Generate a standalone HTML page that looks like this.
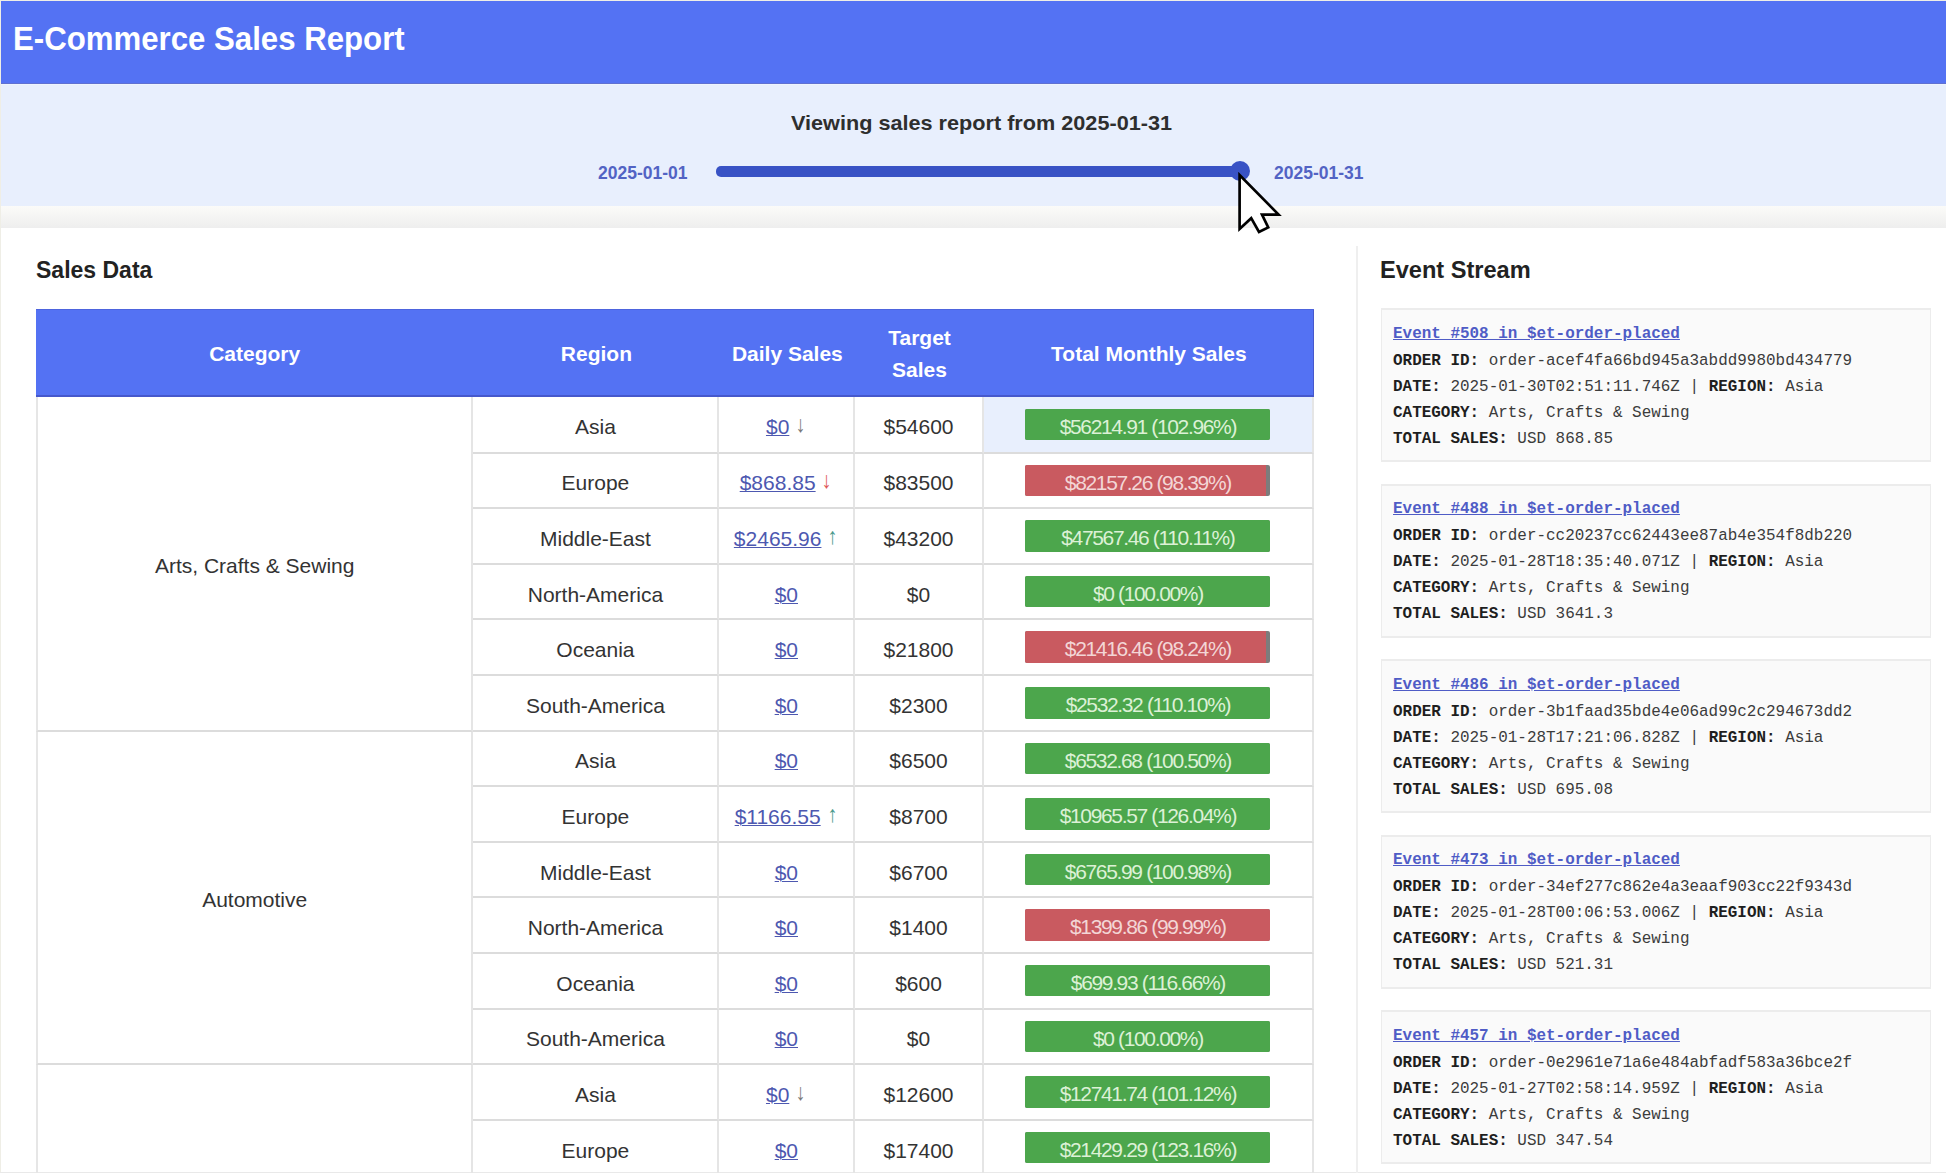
<!DOCTYPE html>
<html><head><meta charset="utf-8">
<title>E-Commerce Sales Report</title>
<style>
*{box-sizing:border-box;margin:0;padding:0}
html,body{width:1946px;height:1173px;overflow:hidden;background:#fff}
body{position:relative;font-family:"Liberation Sans",Arial,sans-serif;color:#333}
.abs{position:absolute;white-space:nowrap}
.sx{display:inline-block;transform-origin:0 0}
#edgeT{position:absolute;left:0;top:0;width:1946px;height:1px;background:#efeee6}
#edgeL{position:absolute;left:0;top:0;width:1px;height:1173px;background:#efeee6}
#hdr{position:absolute;left:1px;top:1px;width:1945px;height:83px;background:#5472f3;box-shadow:inset 0 -1px 0 #6070d0}
#title{left:13px;top:19px;font-size:33px;line-height:40px;font-weight:bold;color:#fff}
#band{position:absolute;left:1px;top:84px;width:1945px;height:122px;background:#e8effd;box-shadow:inset 0 1px 0 #eef4fd}
#shadow{position:absolute;left:1px;top:206px;width:1945px;height:22px;background:linear-gradient(#fbfbf9,#eeeeee)}
#viewing{left:791px;top:110px;font-weight:bold;font-size:20.5px;line-height:26px;color:#2e2e2e}
.dlab{font-weight:bold;font-size:17.5px;line-height:20px;color:#5263c4}
#track{position:absolute;left:716px;top:166px;width:530px;height:10.5px;border-radius:5px;background:#3852c5}
#thumb{position:absolute;left:1230px;top:161px;width:20px;height:20px;border-radius:50%;background:#3852c5}
h2{position:absolute;font-size:23px;line-height:28px;font-weight:bold;color:#222;white-space:nowrap}
#evpanel{position:absolute;left:1356px;top:246px;width:2px;height:927px;background:#efefef}
#edgeB{position:absolute;left:0;top:1172px;width:1946px;height:1px;background:#e9e9e9}
#sales{position:absolute;left:36px;top:309px;width:1277.9px;border-collapse:separate;border-spacing:0;table-layout:fixed;font-size:21px}
#sales th{background:#5472f3;color:#fff;font-weight:bold;height:88px;line-height:32.5px;text-align:center;vertical-align:middle;border:none;padding:2px 0 0 0;box-shadow:inset 0 1px 0 #4d64de, inset 0 -2px 0 #4658cc}
#sales th:last-child{box-shadow:inset 0 1px 0 #4d64de, inset 0 -2px 0 #4658cc, inset -1px 0 0 #4658cc}
#sales td{height:55.6px;text-align:center;vertical-align:middle;border-right:2px solid #e5e5e5;border-bottom:2px solid #dcdcdc;color:#333;padding:6px 0 0 0}
#sales tbody tr:first-child td{height:56.6px}
#sales td.cat{border-left:2px solid #e6e6e6}
#sales td.cat{color:#333}
#sales td.hl{background:#e8effd}
#sales td.tm{padding:0}
#sales a{color:#4d58b0;text-decoration:underline;text-decoration-thickness:1px;text-underline-offset:1px}
.arr{display:inline-block;font-size:23px;line-height:10px;margin-left:0px;position:relative;top:-2px;transform:scaleX(0.85)}
.bar{position:relative;width:245px;height:31.5px;margin:0 auto;border-radius:2px;overflow:hidden;background:#7c7c7c}
.bar .fill{position:absolute;left:0;top:0;bottom:0}
.bar.g .fill{background:#4ca64c}
.bar.r .fill{background:#c95a60}
.bar span{position:relative;top:2px;display:block;line-height:31.5px;font-size:21px;letter-spacing:-1.35px;color:#dcf1d6;text-align:center}
.bar.r span{color:#f3d6d6}
.ev{position:absolute;left:1381px;width:550px;height:154px;background:#fafafa;border:1px solid #ececec;border-width:2px 1px 2px 1px;padding:10.5px 0 0 11px;font-family:"Liberation Mono",monospace;font-size:15.95px;color:#3c3c3c;white-space:nowrap}
.ev .evt{display:block;color:#4f5cc6;text-decoration:underline;font-weight:bold;line-height:26px;margin-bottom:1px}
.ev .ln{line-height:26.05px}
.ev b{color:#1e1e1e}
</style></head><body>
<div id="edgeT"></div><div id="edgeL"></div><div id="edgeB"></div>
<div id="hdr"></div>
<div class="abs" id="title"><span class="sx" style="transform:scaleX(0.945)">E-Commerce Sales Report</span></div>
<div id="band"></div>
<div id="shadow"></div>
<div class="abs" id="viewing"><span class="sx" style="transform:scaleX(1.056)">Viewing sales report from 2025-01-31</span></div>
<div class="abs dlab" style="left:598px;top:163px">2025-01-01</div>
<div class="abs dlab" style="left:1274px;top:163px">2025-01-31</div>
<div id="track"></div>
<div id="thumb"></div>
<h2 style="left:36px;top:256px">Sales Data</h2>
<div id="evpanel"></div>
<h2 style="left:1380px;top:256px"><span class="sx" style="transform:scaleX(1.025)">Event Stream</span></h2>
<table id="sales">
<colgroup><col style="width:437.4px"><col style="width:246.1px"><col style="width:135.7px"><col style="width:128.7px"><col style="width:330px"></colgroup>
<thead><tr><th>Category</th><th>Region</th><th>Daily Sales</th><th class="ts">Target<br>Sales</th><th>Total Monthly Sales</th></tr></thead>
<tbody>
<tr><td class="cat" rowspan="6">Arts, Crafts &amp; Sewing</td><td>Asia</td><td class="ds"><a href="#">$0</a> <span class="arr" style="color:#7a7a7a">&#8595;</span></td><td>$54600</td><td class="tm hl"><div class="bar g"><div class="fill" style="width:100%"></div><span>$56214.91 (102.96%)</span></div></td></tr>
<tr><td>Europe</td><td class="ds"><a href="#">$868.85</a> <span class="arr" style="color:#e05a5a">&#8595;</span></td><td>$83500</td><td class="tm"><div class="bar r"><div class="fill" style="width:98.39%"></div><span>$82157.26 (98.39%)</span></div></td></tr>
<tr><td>Middle-East</td><td class="ds"><a href="#">$2465.96</a> <span class="arr" style="color:#4a9a8c">&#8593;</span></td><td>$43200</td><td class="tm"><div class="bar g"><div class="fill" style="width:100%"></div><span>$47567.46 (110.11%)</span></div></td></tr>
<tr><td>North-America</td><td class="ds"><a href="#">$0</a></td><td>$0</td><td class="tm"><div class="bar g"><div class="fill" style="width:100%"></div><span>$0 (100.00%)</span></div></td></tr>
<tr><td>Oceania</td><td class="ds"><a href="#">$0</a></td><td>$21800</td><td class="tm"><div class="bar r"><div class="fill" style="width:98.24%"></div><span>$21416.46 (98.24%)</span></div></td></tr>
<tr><td>South-America</td><td class="ds"><a href="#">$0</a></td><td>$2300</td><td class="tm"><div class="bar g"><div class="fill" style="width:100%"></div><span>$2532.32 (110.10%)</span></div></td></tr>
<tr><td class="cat" rowspan="6">Automotive</td><td>Asia</td><td class="ds"><a href="#">$0</a></td><td>$6500</td><td class="tm"><div class="bar g"><div class="fill" style="width:100%"></div><span>$6532.68 (100.50%)</span></div></td></tr>
<tr><td>Europe</td><td class="ds"><a href="#">$1166.55</a> <span class="arr" style="color:#4a9a8c">&#8593;</span></td><td>$8700</td><td class="tm"><div class="bar g"><div class="fill" style="width:100%"></div><span>$10965.57 (126.04%)</span></div></td></tr>
<tr><td>Middle-East</td><td class="ds"><a href="#">$0</a></td><td>$6700</td><td class="tm"><div class="bar g"><div class="fill" style="width:100%"></div><span>$6765.99 (100.98%)</span></div></td></tr>
<tr><td>North-America</td><td class="ds"><a href="#">$0</a></td><td>$1400</td><td class="tm"><div class="bar r"><div class="fill" style="width:99.99%"></div><span>$1399.86 (99.99%)</span></div></td></tr>
<tr><td>Oceania</td><td class="ds"><a href="#">$0</a></td><td>$600</td><td class="tm"><div class="bar g"><div class="fill" style="width:100%"></div><span>$699.93 (116.66%)</span></div></td></tr>
<tr><td>South-America</td><td class="ds"><a href="#">$0</a></td><td>$0</td><td class="tm"><div class="bar g"><div class="fill" style="width:100%"></div><span>$0 (100.00%)</span></div></td></tr>
<tr><td class="cat" rowspan="2"></td><td>Asia</td><td class="ds"><a href="#">$0</a> <span class="arr" style="color:#7a7a7a">&#8595;</span></td><td>$12600</td><td class="tm"><div class="bar g"><div class="fill" style="width:100%"></div><span>$12741.74 (101.12%)</span></div></td></tr>
<tr><td>Europe</td><td class="ds"><a href="#">$0</a></td><td>$17400</td><td class="tm"><div class="bar g"><div class="fill" style="width:100%"></div><span>$21429.29 (123.16%)</span></div></td></tr>
</tbody></table>
<div class="ev" style="top:308.0px">
<a href="#" class="evt">Event #508 in $et-order-placed</a>
<div class="ln"><b>ORDER ID:</b> order-acef4fa66bd945a3abdd9980bd434779</div>
<div class="ln"><b>DATE:</b> 2025-01-30T02:51:11.746Z | <b>REGION:</b> Asia</div>
<div class="ln"><b>CATEGORY:</b> Arts, Crafts &amp; Sewing</div>
<div class="ln"><b>TOTAL SALES:</b> USD 868.85</div>
</div>
<div class="ev" style="top:483.5px">
<a href="#" class="evt">Event #488 in $et-order-placed</a>
<div class="ln"><b>ORDER ID:</b> order-cc20237cc62443ee87ab4e354f8db220</div>
<div class="ln"><b>DATE:</b> 2025-01-28T18:35:40.071Z | <b>REGION:</b> Asia</div>
<div class="ln"><b>CATEGORY:</b> Arts, Crafts &amp; Sewing</div>
<div class="ln"><b>TOTAL SALES:</b> USD 3641.3</div>
</div>
<div class="ev" style="top:659.0px">
<a href="#" class="evt">Event #486 in $et-order-placed</a>
<div class="ln"><b>ORDER ID:</b> order-3b1faad35bde4e06ad99c2c294673dd2</div>
<div class="ln"><b>DATE:</b> 2025-01-28T17:21:06.828Z | <b>REGION:</b> Asia</div>
<div class="ln"><b>CATEGORY:</b> Arts, Crafts &amp; Sewing</div>
<div class="ln"><b>TOTAL SALES:</b> USD 695.08</div>
</div>
<div class="ev" style="top:834.5px">
<a href="#" class="evt">Event #473 in $et-order-placed</a>
<div class="ln"><b>ORDER ID:</b> order-34ef277c862e4a3eaaf903cc22f9343d</div>
<div class="ln"><b>DATE:</b> 2025-01-28T00:06:53.006Z | <b>REGION:</b> Asia</div>
<div class="ln"><b>CATEGORY:</b> Arts, Crafts &amp; Sewing</div>
<div class="ln"><b>TOTAL SALES:</b> USD 521.31</div>
</div>
<div class="ev" style="top:1010.0px">
<a href="#" class="evt">Event #457 in $et-order-placed</a>
<div class="ln"><b>ORDER ID:</b> order-0e2961e71a6e484abfadf583a36bce2f</div>
<div class="ln"><b>DATE:</b> 2025-01-27T02:58:14.959Z | <b>REGION:</b> Asia</div>
<div class="ln"><b>CATEGORY:</b> Arts, Crafts &amp; Sewing</div>
<div class="ln"><b>TOTAL SALES:</b> USD 347.54</div>
</div>
<svg class="abs" style="left:0;top:0;pointer-events:none" width="1946" height="1173" viewBox="0 0 1946 1173">
<path d="M1239.6 175 L1239.6 229 L1251.2 218.2 L1259 232 L1268.2 227.4 L1262 214.6 L1278.6 214.6 Z" fill="#fff" stroke="#000" stroke-width="2.7" stroke-linejoin="miter"/>
</svg>
</body></html>
